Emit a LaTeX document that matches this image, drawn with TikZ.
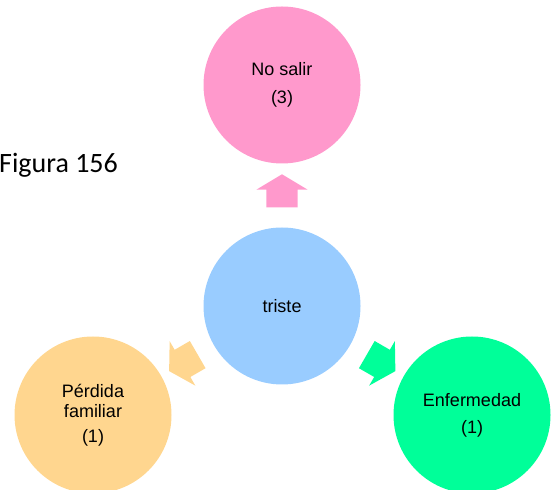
\documentclass[tikz,border=0pt]{standalone}
\usepackage{fontspec}
\setmainfont{Liberation Sans}
\newfontfamily\captionfont{Carlito}
\usetikzlibrary{positioning,shapes.arrows,calc}
\definecolor{SadBlue}{HTML}{99CCFF}
\definecolor{StayPink}{HTML}{FF99CC}
\definecolor{LossOrange}{HTML}{FFD68F}
\definecolor{IllGreen}{HTML}{00FF99}

\begin{document}
\begin{tikzpicture}[
  x=1pt, y=1pt,
  bubble/.style   = {circle, minimum size=157pt, inner sep=0pt, align=center,
                     font=\fontsize{18}{20}\selectfont},
  blockarrow/.style = {single arrow, minimum height=33pt, minimum width=51pt,
                     single arrow head extend=10pt, single arrow tip angle=118,
                     inner xsep=0pt, inner ysep=15.5pt}
]
\useasboundingbox (0,0) rectangle (553,489);

% Caption
\node[anchor=base west, inner sep=0pt, font=\captionfont\fontsize{28}{30}\selectfont]
  (caption) at (-1,316) {Figura 156};

% Circles
\node[bubble, fill=SadBlue]    (triste)     at (282,183) {triste};
\node[bubble, fill=StayPink]   (nosalir)    at (282,404) {No salir\\[8pt](3)};
\node[bubble, fill=LossOrange] (perdida)    at (93,74)   {Pérdida\\familiar\\[5pt](1)};
\node[bubble, fill=IllGreen]   (enfermedad) at (472,74)  {Enfermedad\\[7pt](1)};

% Block arrows
\node[blockarrow, fill=StayPink, rotate=90]    (up)    at ($(triste)!0.5!(nosalir)$) {};
\node[blockarrow, fill=LossOrange, rotate=210] (left)  at ($(triste)!0.5!(perdida)$) {};
\node[blockarrow, fill=IllGreen, rotate=-30]   (right) at ($(triste)!0.5!(enfermedad)$) {};
\end{tikzpicture}
\end{document}
